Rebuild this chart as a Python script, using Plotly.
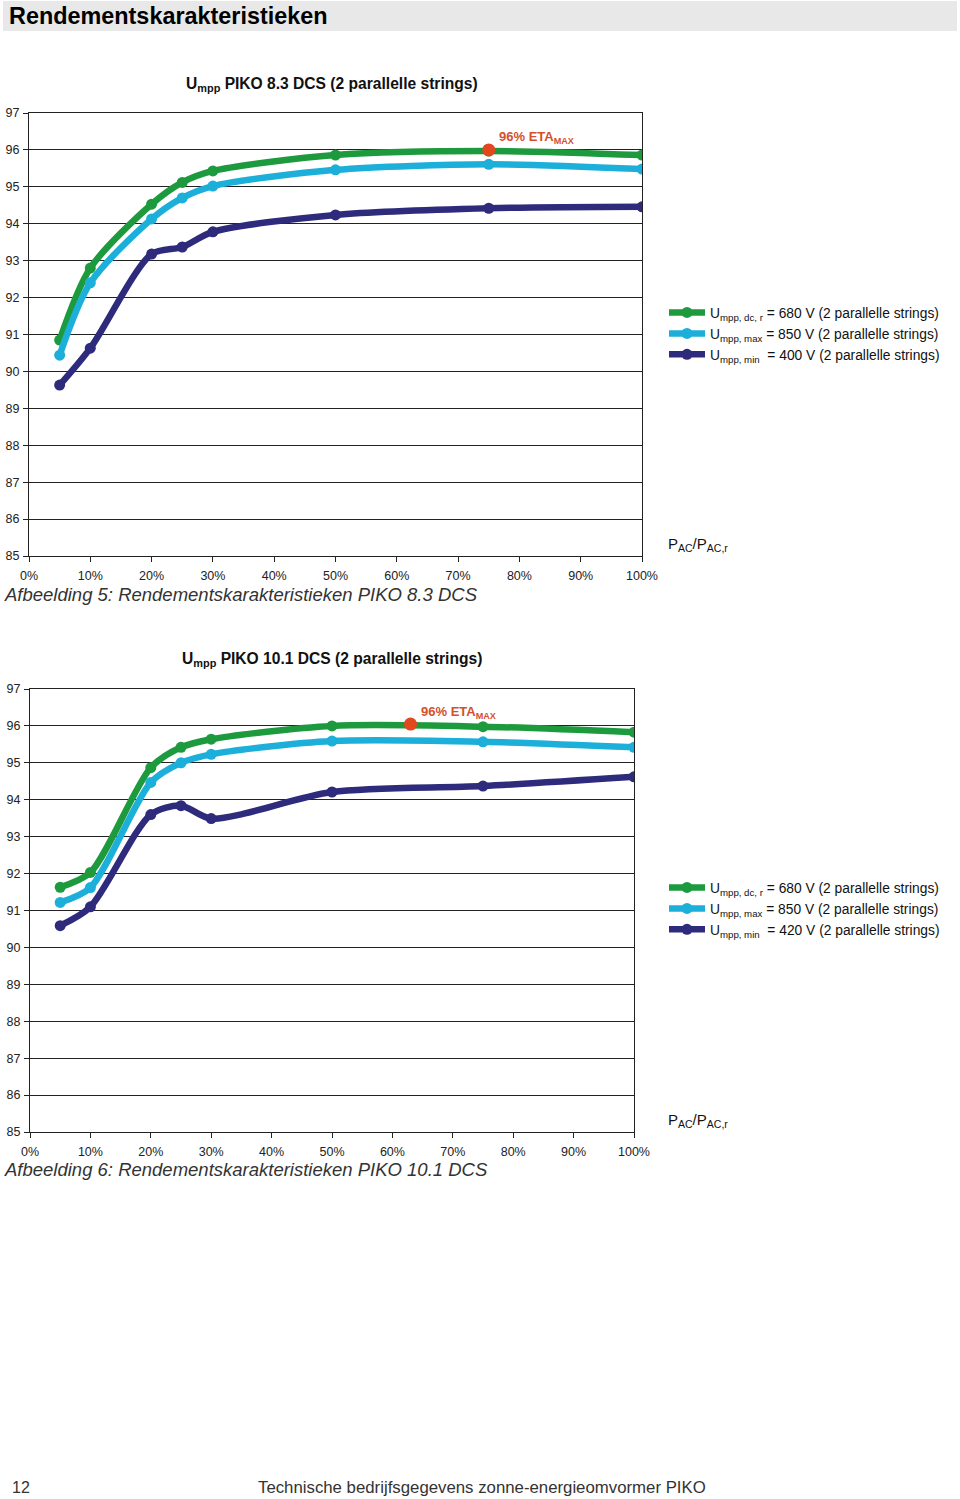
import plotly.graph_objects as go

W, H = 960, 1499

# ---- data ----
load_pct = [5, 10, 20, 25, 30, 50, 75, 100]
x_ticks = [0, 10, 20, 30, 40, 50, 60, 70, 80, 90, 100]
x_tick_labels = [f"{v}%" for v in x_ticks]
y_ticks = list(range(85, 98))

# PIKO 8.3 DCS
c1_dc_r = [90.85, 92.8, 94.53, 95.12, 95.43, 95.86, 95.97, 95.86]
c1_max = [90.44, 92.4, 94.13, 94.7, 95.02, 95.46, 95.61, 95.48]
c1_min = [89.63, 90.63, 93.18, 93.37, 93.78, 94.24, 94.42, 94.46]
c1_eta = (75, 96.0)
c1_names = ["U<sub>mpp, dc, r</sub> = 680 V (2 parallelle strings)",
            "U<sub>mpp, max</sub> = 850 V (2 parallelle strings)",
            "U<sub>mpp, min</sub>  = 400 V (2 parallelle strings)"]

# PIKO 10.1 DCS
c2_dc_r = [91.63, 92.03, 94.87, 95.42, 95.64, 96.0, 95.98, 95.83]
c2_max = [91.22, 91.62, 94.47, 95.0, 95.23, 95.59, 95.57, 95.42]
c2_min = [90.59, 91.1, 93.6, 93.84, 93.49, 94.21, 94.37, 94.62]
c2_eta = (63, 96.05)
c2_names = ["U<sub>mpp, dc, r</sub> = 680 V (2 parallelle strings)",
            "U<sub>mpp, max</sub> = 850 V (2 parallelle strings)",
            "U<sub>mpp, min</sub>  = 420 V (2 parallelle strings)"]

colors = ["#1E9A3E", "#1BAFD9", "#2E2B7C"]
eta_color = "#E2471E"
eta_text_color = "#D4502C"
FONT = "Liberation Sans"

fig = go.Figure()

def px_x(p):
    return p / W

def px_y(p):
    return 1 - p / H

charts = [
    dict(series=[c1_dc_r, c1_max, c1_min], names=c1_names, eta=c1_eta, xa="x", ya="y",
         legend="legend", xdom=(29, 642), ydom=(113, 556),
         title="U<sub>mpp</sub> PIKO 8.3 DCS (2 parallelle strings)", title_y=85,
         caption="Afbeelding 5: Rendementskarakteristieken PIKO 8.3 DCS", cap_y=594,
         leg_y=297, pac_y=545),
    dict(series=[c2_dc_r, c2_max, c2_min], names=c2_names, eta=c2_eta, xa="x2", ya="y2",
         legend="legend2", xdom=(30, 634), ydom=(689, 1132),
         title="U<sub>mpp</sub> PIKO 10.1 DCS (2 parallelle strings)", title_y=660,
         caption="Afbeelding 6: Rendementskarakteristieken PIKO 10.1 DCS", cap_y=1169,
         leg_y=872, pac_y=1120),
]

annotations = []
for i, ch in enumerate(charts):
    for s, name, col in zip(ch["series"], ch["names"], colors):
        fig.add_trace(go.Scatter(
            x=load_pct, y=s, mode="lines+markers", name=name,
            line=dict(color=col, width=6.5, shape="spline", smoothing=0.8),
            marker=dict(color=col, size=11),
            xaxis=ch["xa"], yaxis=ch["ya"], legend=ch["legend"]))
    fig.add_trace(go.Scatter(
        x=[ch["eta"][0]], y=[ch["eta"][1]], mode="markers",
        marker=dict(color=eta_color, size=13), showlegend=False,
        xaxis=ch["xa"], yaxis=ch["ya"]))
    annotations.append(dict(
        x=ch["eta"][0], y=ch["eta"][1], xref=ch["xa"], yref=ch["ya"],
        text="<b>96% ETA<sub>MAX</sub></b>", showarrow=False,
        xanchor="left", yanchor="middle", xshift=8, yshift=12,
        font=dict(family=FONT, size=13, color=eta_text_color)))
    annotations.append(dict(
        x=px_x(332), y=px_y(ch["title_y"]), xref="paper", yref="paper",
        text="<b>" + ch["title"] + "</b>", showarrow=False,
        xanchor="center", yanchor="middle",
        font=dict(family=FONT, size=15.6, color="#111111")))
    annotations.append(dict(
        x=px_x(2), y=px_y(ch["cap_y"]), xref="paper", yref="paper",
        text="<i>" + ch["caption"] + "</i>", showarrow=False,
        xanchor="left", yanchor="middle",
        font=dict(family=FONT, size=18.5, color="#333333")))
    annotations.append(dict(
        x=px_x(666), y=px_y(ch["pac_y"]), xref="paper", yref="paper",
        text="P<sub>AC</sub>/P<sub>AC,r</sub>", showarrow=False,
        xanchor="left", yanchor="middle",
        font=dict(family=FONT, size=15, color="#111111")))

    axis_common = dict(showline=True, linecolor="#222222", linewidth=1, mirror=True,
                       ticks="outside", ticklen=5, tickcolor="#222222",
                       tickfont=dict(family=FONT, size=12.5, color="#222222"),
                       zeroline=False, automargin=False)
    xkey = "xaxis" if i == 0 else "xaxis2"
    ykey = "yaxis" if i == 0 else "yaxis2"
    fig.update_layout(**{
        xkey: dict(domain=[px_x(ch["xdom"][0]), px_x(ch["xdom"][1])], range=[0, 100],
                   tickvals=x_ticks, ticktext=x_tick_labels, showgrid=False,
                   anchor=ch["ya"], ticklabelstandoff=3, **axis_common),
        ykey: dict(domain=[px_y(ch["ydom"][1]), px_y(ch["ydom"][0])], range=[85, 97],
                   tickvals=y_ticks, showgrid=True, gridcolor="#222222", gridwidth=1,
                   anchor=ch["xa"], ticklabelstandoff=1, **axis_common),
        ch["legend"]: dict(x=px_x(664), y=px_y(ch["leg_y"]), xanchor="left", yanchor="top",
                           bgcolor="rgba(0,0,0,0)", tracegroupgap=0, itemwidth=36,
                           font=dict(family=FONT, size=13.8, color="#111111")),
    })

# header bar
shapes = [dict(type="rect", xref="paper", yref="paper", x0=px_x(3), x1=px_x(957),
               y0=px_y(31), y1=px_y(1), fillcolor="#E8E8E8", line=dict(width=0), layer="below")]
annotations.append(dict(x=px_x(7), y=px_y(16), xref="paper", yref="paper",
                        text="<b>Rendementskarakteristieken</b>", showarrow=False,
                        xanchor="left", yanchor="middle",
                        font=dict(family=FONT, size=23.4, color="#000000")))
# footer
annotations.append(dict(x=px_x(10), y=px_y(1487), xref="paper", yref="paper",
                        text="12", showarrow=False, xanchor="left", yanchor="middle",
                        font=dict(family=FONT, size=16, color="#333333")))
annotations.append(dict(x=px_x(256), y=px_y(1487), xref="paper", yref="paper",
                        text="Technische bedrijfsgegevens zonne-energieomvormer PIKO",
                        showarrow=False, xanchor="left", yanchor="middle",
                        font=dict(family=FONT, size=16.8, color="#333333")))

fig.update_layout(width=W, height=H, margin=dict(l=0, r=0, t=0, b=0, pad=0, autoexpand=False),
                  paper_bgcolor="white", plot_bgcolor="white",
                  annotations=annotations, shapes=shapes, showlegend=True,
                  font=dict(family=FONT))

fig.write_html("out.html", config={"displayModeBar": False},
               post_script="document.body.style.margin='0';document.body.style.overflow='hidden';")
